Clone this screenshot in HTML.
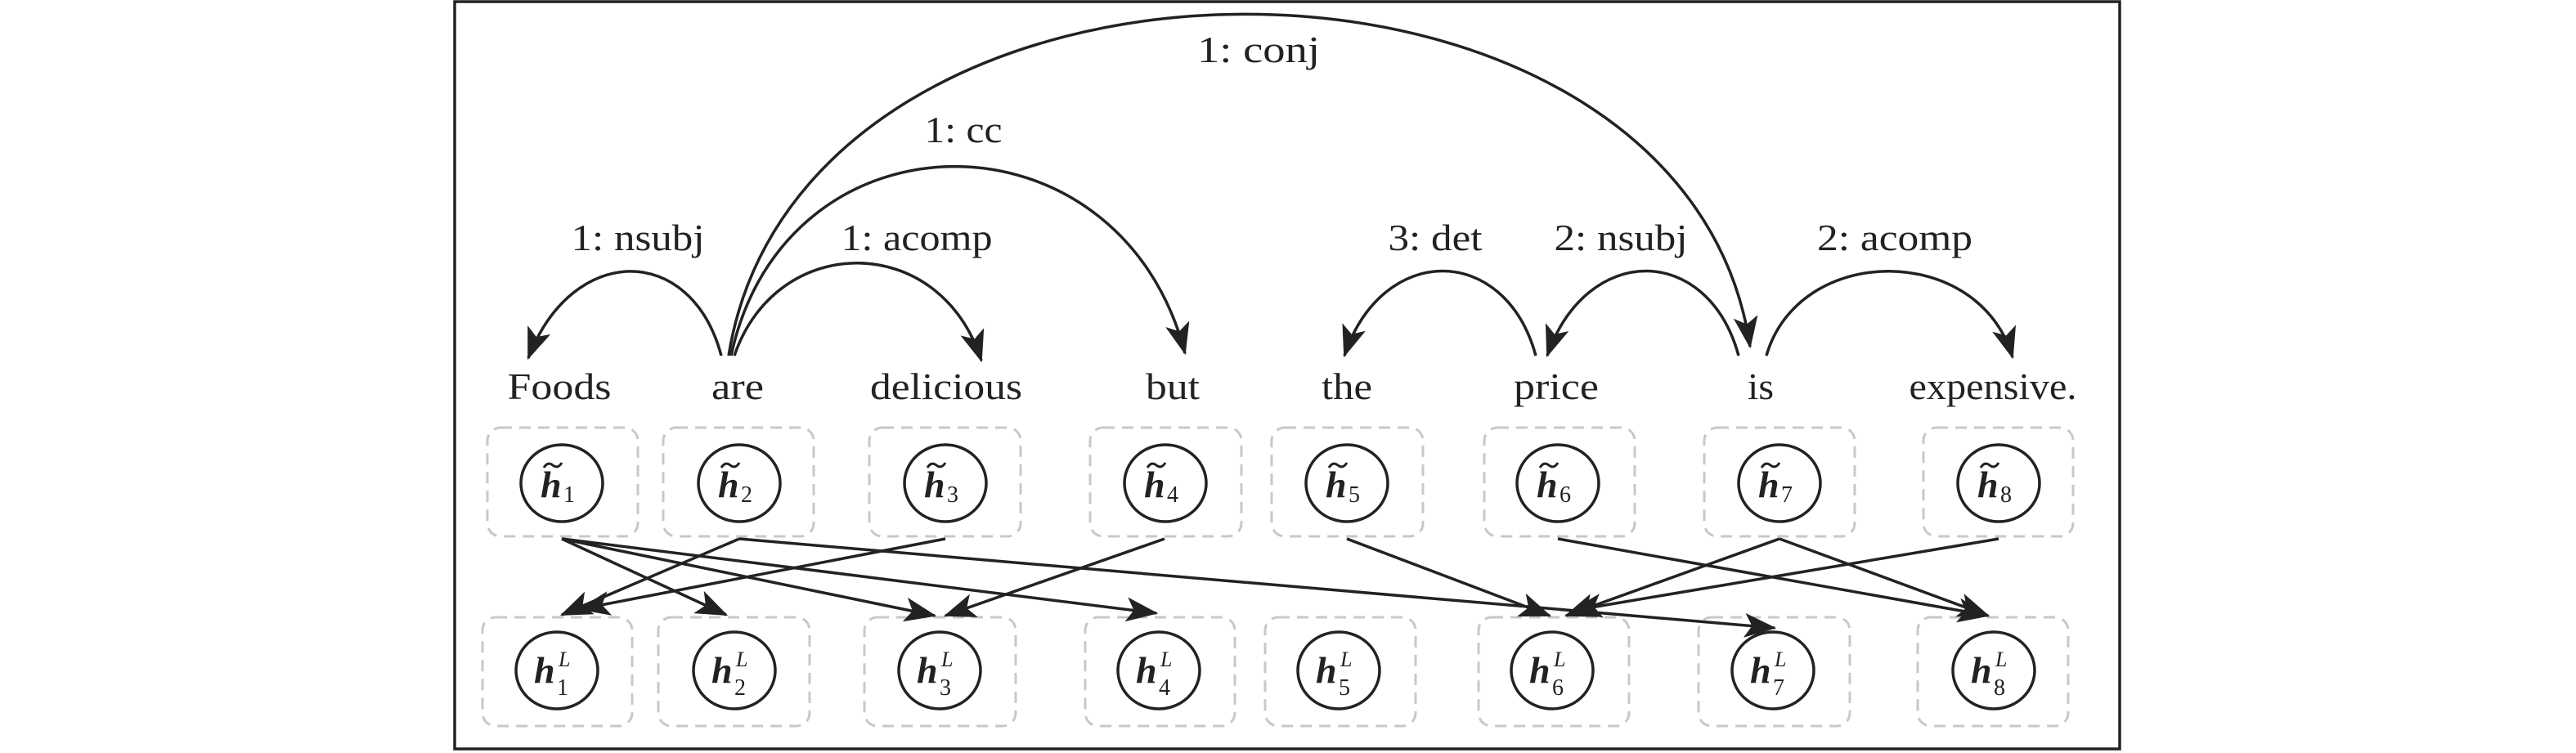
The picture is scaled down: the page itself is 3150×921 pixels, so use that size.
<!DOCTYPE html>
<html><head><meta charset="utf-8"><style>
html,body{margin:0;padding:0;background:#fff}
svg{display:block}
text{font-family:"Liberation Serif",serif;fill:#222}
</style></head><body>
<svg width="3150" height="921" viewBox="0 0 3150 921" xmlns="http://www.w3.org/2000/svg">
<defs>
<marker id="a" markerUnits="userSpaceOnUse" markerWidth="40" markerHeight="30" viewBox="0 0 34 26" refX="32" refY="13" orient="auto">
<path d="M0,0 L34,13 L0,26 L8,13 Z" fill="#222"/>
</marker>
</defs>
<rect x="556" y="2" width="2036" height="914" fill="none" stroke="#222" stroke-width="3.5"/>
<g fill="none" stroke="#222" stroke-width="3.5" marker-end="url(#a)">
<path d="M882,435 C845,297 700,297 646,438"/>
<path d="M898,435 C950,283 1150,283 1200,441"/>
<path d="M894,435 C960,127 1370,127 1449,432"/>
<path d="M891,435 C980,-120 2060,-120 2140,424"/>
<path d="M1878,435 C1840,297 1690,297 1644,435"/>
<path d="M2126,435 C2088,297 1940,297 1892,435"/>
<path d="M2160,435 C2200,297 2420,297 2461,437"/>
</g>
<g font-size="46" text-anchor="middle">
<text x="780" y="306" textLength="163" lengthAdjust="spacingAndGlyphs">1: nsubj</text>
<text x="1121" y="306" textLength="185" lengthAdjust="spacingAndGlyphs">1: acomp</text>
<text x="1178" y="174" textLength="95" lengthAdjust="spacingAndGlyphs">1: cc</text>
<text x="1539" y="76" textLength="150" lengthAdjust="spacingAndGlyphs">1: conj</text>
<text x="1755" y="306" textLength="115" lengthAdjust="spacingAndGlyphs">3: det</text>
<text x="1982" y="306" textLength="163" lengthAdjust="spacingAndGlyphs">2: nsubj</text>
<text x="2317" y="306" textLength="190" lengthAdjust="spacingAndGlyphs">2: acomp</text>
</g>
<g font-size="46" text-anchor="middle">
<text x="684" y="488" textLength="127" lengthAdjust="spacingAndGlyphs">Foods</text>
<text x="902" y="488" textLength="64" lengthAdjust="spacingAndGlyphs">are</text>
<text x="1157" y="488" textLength="186" lengthAdjust="spacingAndGlyphs">delicious</text>
<text x="1434" y="488" textLength="66" lengthAdjust="spacingAndGlyphs">but</text>
<text x="1647" y="488" textLength="62" lengthAdjust="spacingAndGlyphs">the</text>
<text x="1903" y="488" textLength="104" lengthAdjust="spacingAndGlyphs">price</text>
<text x="2153" y="488" textLength="32" lengthAdjust="spacingAndGlyphs">is</text>
<text x="2437" y="488" textLength="205" lengthAdjust="spacingAndGlyphs">expensive.</text>
</g>
<g fill="none" stroke="#c8c8c8" stroke-width="3" stroke-dasharray="14,9">
<rect x="596" y="523" width="184" height="133" rx="16"/>
<rect x="811" y="523" width="184" height="133" rx="16"/>
<rect x="1063" y="523" width="185" height="133" rx="16"/>
<rect x="1333" y="523" width="185" height="133" rx="16"/>
<rect x="1555" y="523" width="185" height="133" rx="16"/>
<rect x="1815" y="523" width="184" height="133" rx="16"/>
<rect x="2084" y="523" width="184" height="133" rx="16"/>
<rect x="2352" y="523" width="183" height="133" rx="16"/>
<rect x="590" y="755" width="183" height="133" rx="16"/>
<rect x="805" y="755" width="185" height="133" rx="16"/>
<rect x="1057" y="755" width="185" height="133" rx="16"/>
<rect x="1327" y="755" width="183" height="133" rx="16"/>
<rect x="1547" y="755" width="184" height="133" rx="16"/>
<rect x="1808" y="755" width="184" height="133" rx="16"/>
<rect x="2077" y="755" width="185" height="133" rx="16"/>
<rect x="2345" y="755" width="184" height="133" rx="16"/>
</g>
<g fill="none" stroke="#222" stroke-width="3.5">
<ellipse cx="687" cy="591" rx="50" ry="47"/>
<ellipse cx="904" cy="591" rx="50" ry="47"/>
<ellipse cx="1156" cy="591" rx="50" ry="47"/>
<ellipse cx="1425" cy="591" rx="50" ry="47"/>
<ellipse cx="1647" cy="591" rx="50" ry="47"/>
<ellipse cx="1905" cy="591" rx="50" ry="47"/>
<ellipse cx="2176" cy="591" rx="50" ry="47"/>
<ellipse cx="2444" cy="591" rx="50" ry="47"/>
<ellipse cx="681" cy="820" rx="50" ry="47"/>
<ellipse cx="898" cy="820" rx="50" ry="47"/>
<ellipse cx="1149" cy="820" rx="50" ry="47"/>
<ellipse cx="1417" cy="820" rx="50" ry="47"/>
<ellipse cx="1637" cy="820" rx="50" ry="47"/>
<ellipse cx="1898" cy="820" rx="50" ry="47"/>
<ellipse cx="2168" cy="820" rx="50" ry="47"/>
<ellipse cx="2438" cy="820" rx="50" ry="47"/>
</g>
<!-- top labels -->
<g>
<g transform="translate(687,0)"><text x="-26" y="608" font-size="46" font-weight="bold" font-style="italic">h</text><text x="2" y="614" font-size="28">1</text><path d="M-22,572 q5,-8 11,-3 t11,-3" fill="none" stroke="#222" stroke-width="3"/></g>
<g transform="translate(904,0)"><text x="-26" y="608" font-size="46" font-weight="bold" font-style="italic">h</text><text x="2" y="614" font-size="28">2</text><path d="M-22,572 q5,-8 11,-3 t11,-3" fill="none" stroke="#222" stroke-width="3"/></g>
<g transform="translate(1156,0)"><text x="-26" y="608" font-size="46" font-weight="bold" font-style="italic">h</text><text x="2" y="614" font-size="28">3</text><path d="M-22,572 q5,-8 11,-3 t11,-3" fill="none" stroke="#222" stroke-width="3"/></g>
<g transform="translate(1425,0)"><text x="-26" y="608" font-size="46" font-weight="bold" font-style="italic">h</text><text x="2" y="614" font-size="28">4</text><path d="M-22,572 q5,-8 11,-3 t11,-3" fill="none" stroke="#222" stroke-width="3"/></g>
<g transform="translate(1647,0)"><text x="-26" y="608" font-size="46" font-weight="bold" font-style="italic">h</text><text x="2" y="614" font-size="28">5</text><path d="M-22,572 q5,-8 11,-3 t11,-3" fill="none" stroke="#222" stroke-width="3"/></g>
<g transform="translate(1905,0)"><text x="-26" y="608" font-size="46" font-weight="bold" font-style="italic">h</text><text x="2" y="614" font-size="28">6</text><path d="M-22,572 q5,-8 11,-3 t11,-3" fill="none" stroke="#222" stroke-width="3"/></g>
<g transform="translate(2176,0)"><text x="-26" y="608" font-size="46" font-weight="bold" font-style="italic">h</text><text x="2" y="614" font-size="28">7</text><path d="M-22,572 q5,-8 11,-3 t11,-3" fill="none" stroke="#222" stroke-width="3"/></g>
<g transform="translate(2444,0)"><text x="-26" y="608" font-size="46" font-weight="bold" font-style="italic">h</text><text x="2" y="614" font-size="28">8</text><path d="M-22,572 q5,-8 11,-3 t11,-3" fill="none" stroke="#222" stroke-width="3"/></g>
</g>
<!-- bottom labels -->
<g>
<g transform="translate(681,0)"><text x="-28" y="835" font-size="46" font-weight="bold" font-style="italic">h</text><text x="2" y="815" font-size="26" font-style="italic">L</text><text x="0" y="850" font-size="28">1</text></g>
<g transform="translate(898,0)"><text x="-28" y="835" font-size="46" font-weight="bold" font-style="italic">h</text><text x="2" y="815" font-size="26" font-style="italic">L</text><text x="0" y="850" font-size="28">2</text></g>
<g transform="translate(1149,0)"><text x="-28" y="835" font-size="46" font-weight="bold" font-style="italic">h</text><text x="2" y="815" font-size="26" font-style="italic">L</text><text x="0" y="850" font-size="28">3</text></g>
<g transform="translate(1417,0)"><text x="-28" y="835" font-size="46" font-weight="bold" font-style="italic">h</text><text x="2" y="815" font-size="26" font-style="italic">L</text><text x="0" y="850" font-size="28">4</text></g>
<g transform="translate(1637,0)"><text x="-28" y="835" font-size="46" font-weight="bold" font-style="italic">h</text><text x="2" y="815" font-size="26" font-style="italic">L</text><text x="0" y="850" font-size="28">5</text></g>
<g transform="translate(1898,0)"><text x="-28" y="835" font-size="46" font-weight="bold" font-style="italic">h</text><text x="2" y="815" font-size="26" font-style="italic">L</text><text x="0" y="850" font-size="28">6</text></g>
<g transform="translate(2168,0)"><text x="-28" y="835" font-size="46" font-weight="bold" font-style="italic">h</text><text x="2" y="815" font-size="26" font-style="italic">L</text><text x="0" y="850" font-size="28">7</text></g>
<g transform="translate(2438,0)"><text x="-28" y="835" font-size="46" font-weight="bold" font-style="italic">h</text><text x="2" y="815" font-size="26" font-style="italic">L</text><text x="0" y="850" font-size="28">8</text></g>
</g>
<g fill="none" stroke="#222" stroke-width="3.5" marker-end="url(#a)">
<line x1="687" y1="659" x2="888" y2="752"/>
<line x1="687" y1="659" x2="1143" y2="753"/>
<line x1="687" y1="659" x2="1414" y2="750"/>
<line x1="904" y1="659" x2="687" y2="752"/>
<line x1="904" y1="659" x2="2170" y2="768"/>
<line x1="1156" y1="659" x2="709" y2="745"/>
<line x1="1424" y1="659" x2="1156" y2="753"/>
<line x1="1647" y1="659" x2="1895" y2="753"/>
<line x1="1905" y1="659" x2="2431" y2="753"/>
<line x1="2176" y1="659" x2="1915" y2="753"/>
<line x1="2176" y1="659" x2="2431" y2="753"/>
<line x1="2444" y1="659" x2="1922" y2="747"/>
</g>
</svg>
</body></html>
